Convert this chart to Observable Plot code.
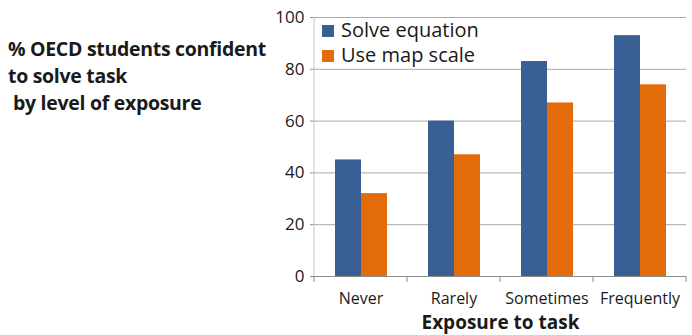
<!DOCTYPE html>
<html>
<head>
<meta charset="utf-8">
<script src="https://cdn.jsdelivr.net/npm/d3@7"></script>
<script src="https://cdn.jsdelivr.net/npm/@observablehq/plot@0.6"></script>
<style>
  html, body { margin: 0; padding: 0; background: #fff; }
  #wrap { position: relative; width: 692px; height: 335px; font-family: "Open Sans", Lato, sans-serif; color: #1a1a1a; }
  #title { position: absolute; left: 8px; top: 35px; font-weight: bold; font-size: 19.5px; line-height: 27px; letter-spacing: -0.3px; }
  #title .l3 { padding-left: 5px; }
  #legend { position: absolute; left: 322px; top: 17px; font-size: 20px; line-height: 25px; }
  #legend .sw { display: inline-block; width: 12px; height: 12px; margin-right: 7px; vertical-align: 0px; }
</style>
</head>
<body>
<div id="wrap">
  <div id="chart"></div>
  <div id="title"></div>
  <div id="legend"></div>
</div>
<script>
const titleLines = ["% OECD students confident", "to solve task", "by level of exposure"];
const categories = ["Never", "Rarely", "Sometimes", "Frequently"];
const series = ["Solve equation", "Use map scale"];
const solveEquation = [45, 60, 83, 93];
const useMapScale = [32, 47, 67, 74];
const yTicks = [0, 20, 40, 60, 80, 100];
const colors = ["#3A5F95", "#E36C0A"];
const xTitle = "Exposure to task";

const values = [solveEquation, useMapScale];
const data = [];
categories.forEach((c, i) => series.forEach((s, j) => data.push({category: c, series: s, value: values[j][i]})));

const plot = Plot.plot({
  width: 692,
  height: 335,
  marginLeft: 313,
  marginRight: 6,
  marginTop: 17,
  marginBottom: 59,
  style: {fontFamily: "'Open Sans', Lato, sans-serif", fontSize: "16px", color: "#1a1a1a", background: "white", overflow: "visible"},
  fx: {domain: categories, padding: 0},
  x: {domain: series, paddingInner: 0, paddingOuter: 0.77, axis: null},
  y: {domain: [0, 100]},
  color: {domain: series, range: colors},
  marks: [
    Plot.gridY(yTicks, {stroke: "#a8a8a8", strokeOpacity: 1}),
    Plot.barY(data, {fx: "category", x: "series", y: "value", fill: "series"}),
    Plot.ruleY([0], {stroke: "#8c8c8c", strokeWidth: 1.2}),
    Plot.axisY({ticks: yTicks, tickSize: 4, tickPadding: 6, label: null, stroke: "#8c8c8c", fontSize: 17}),
    Plot.axisFx({anchor: "bottom", tickSize: 0, tickPadding: 16, label: xTitle, labelAnchor: "center", labelOffset: 52})
  ]
});
document.getElementById("chart").appendChild(plot);

// extra axis details through the library scales
const svg = d3.select(plot);
const fx = plot.scale("fx");
const y = plot.scale("y");
const bw = fx.bandwidth;
const edges = categories.map(c => fx.apply(c)).concat([fx.apply(categories[categories.length - 1]) + bw]);
const g = svg.append("g").attr("stroke", "#8c8c8c");
edges.forEach(xp => g.append("line").attr("x1", xp).attr("x2", xp).attr("y1", y.apply(0)).attr("y2", y.apply(0) + 6));
g.append("line").attr("x1", edges[0]).attr("x2", edges[0]).attr("y1", y.apply(0)).attr("y2", y.apply(100)).attr("stroke", "#c8c8c8");
svg.selectAll('[aria-label="fx-axis label"] text, [aria-label="fx-axis label"]').attr("font-weight", "bold").attr("font-size", 19);

// title and legend
d3.select("#title").selectAll("div").data(titleLines).join("div").attr("class", (d, i) => "l" + (i + 1)).text(d => d);
const lg = d3.select("#legend").selectAll("div").data(series).join("div");
lg.append("span").attr("class", "sw").style("background", (d, i) => colors[i]);
lg.append("span").text(d => d);
</script>
</body>
</html>
